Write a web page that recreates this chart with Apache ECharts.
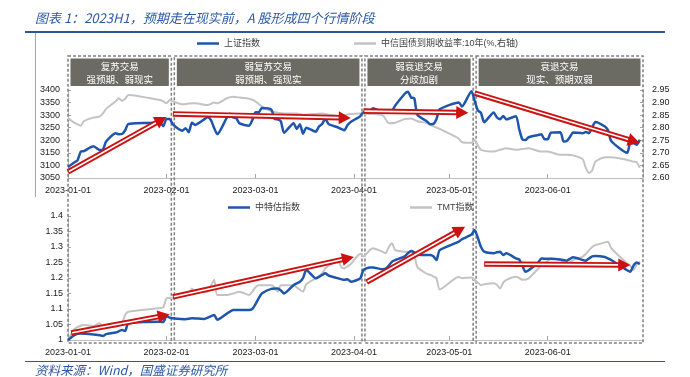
<!DOCTYPE html>
<html>
<head>
<meta charset="utf-8">
<script src="https://cdn.jsdelivr.net/npm/echarts/dist/echarts.min.js"></script>
<style>
html,body{margin:0;padding:0;background:#fff}
#main{width:690px;height:377px}
</style>
</head>
<body>
<div id="main"></div>
<script>
// 刻度与阶段
var monthTicks = ['2023-01-01', '2023-02-01', '2023-03-01', '2023-04-01', '2023-05-01', '2023-06-01'];
var axisEnd = '2023-07-01';
var phaseEdges = ['2023-01-01', '2023-02-03', '2023-04-04', '2023-05-09', '2023-07-01'];
var phaseTitles = ['复苏交易', '弱复苏交易', '弱衰退交易', '衰退交易'];
var phaseNotes = ['强预期、弱现实', '弱预期、强现实', '分歧加剧', '现实、预期双弱'];

// 上证指数（左轴）
var sse = [['01-01',3094],['01-03',3112],['01-04',3120],['01-05',3155],['01-06',3157],['01-09',3176],['01-10',3169],['01-11',3161],['01-12',3163],['01-13',3195],['01-16',3228],['01-17',3224],['01-18',3225],['01-19',3240],['01-20',3265],['01-30',3270],['01-31',3256],['02-01',3285],['02-02',3285],['02-03',3263],['02-06',3238],['02-07',3248],['02-08',3232],['02-09',3270],['02-10',3261],['02-13',3284],['02-14',3293],['02-15',3280],['02-16',3249],['02-17',3224],['02-20',3290],['02-21',3306],['02-22',3291],['02-23',3287],['02-24',3267],['02-27',3258],['02-28',3280],['03-01',3312],['03-02',3310],['03-03',3328],['03-06',3322],['03-07',3285],['03-08',3283],['03-09',3276],['03-10',3230],['03-13',3268],['03-14',3245],['03-15',3264],['03-16',3226],['03-17',3250],['03-20',3234],['03-21',3255],['03-22',3265],['03-23',3286],['03-24',3265],['03-27',3251],['03-28',3245],['03-29',3240],['03-30',3261],['03-31',3273],['04-03',3296],['04-04',3312],['04-06',3312],['04-07',3327],['04-10',3315],['04-11',3315],['04-12',3318],['04-13',3319],['04-14',3338],['04-17',3385],['04-18',3393],['04-19',3370],['04-20',3367],['04-21',3301],['04-24',3275],['04-25',3264],['04-26',3265],['04-27',3285],['04-28',3323],['05-04',3350],['05-05',3334],['05-08',3395],['05-09',3357],['05-10',3319],['05-11',3309],['05-12',3272],['05-15',3311],['05-16',3291],['05-17',3284],['05-18',3297],['05-19',3283],['05-22',3296],['05-23',3246],['05-24',3204],['05-25',3201],['05-26',3212],['05-29',3221],['05-30',3224],['05-31',3204],['06-01',3204],['06-02',3230],['06-05',3232],['06-06',3195],['06-07',3197],['06-08',3213],['06-09',3231],['06-12',3228],['06-13',3233],['06-14',3228],['06-15',3252],['06-16',3273],['06-19',3255],['06-20',3240],['06-21',3197],['06-26',3150],['06-27',3189],['06-28',3189],['06-29',3182],['06-30',3202]];

// 中信国债到期收益率:10年（右轴）
var cgb = [['01-01',2.837],['01-03',2.82],['01-05',2.808],['01-06',2.826],['01-09',2.84],['01-11',2.845],['01-12',2.857],['01-13',2.875],['01-16',2.905],['01-17',2.917],['01-18',2.907],['01-19',2.915],['01-20',2.93],['01-30',2.91],['01-31',2.905],['02-01',2.897],['02-02',2.91],['02-03',2.905],['02-06',2.893],['02-08',2.896],['02-10',2.897],['02-14',2.89],['02-16',2.9],['02-17',2.897],['02-20',2.917],['02-22',2.923],['02-24',2.92],['02-27',2.915],['03-01',2.905],['03-03',2.885],['03-06',2.865],['03-08',2.86],['03-10',2.857],['03-14',2.857],['03-16',2.852],['03-20',2.855],['03-22',2.857],['03-24',2.852],['03-28',2.847],['03-30',2.853],['04-03',2.857],['04-06',2.855],['04-10',2.85],['04-12',2.818],['04-14',2.82],['04-17',2.835],['04-19',2.837],['04-21',2.826],['04-24',2.818],['04-26',2.806],['04-28',2.795],['05-04',2.757],['05-05',2.742],['05-08',2.74],['05-09',2.751],['05-10',2.73],['05-11',2.712],['05-15',2.705],['05-17',2.712],['05-19',2.718],['05-22',2.712],['05-24',2.715],['05-26',2.718],['05-30',2.705],['06-01',2.705],['06-05',2.692],['06-07',2.692],['06-09',2.69],['06-12',2.675],['06-13',2.64],['06-14',2.62],['06-15',2.63],['06-16',2.665],['06-19',2.683],['06-21',2.683],['06-26',2.672],['06-28',2.665],['06-29',2.663],['06-30',2.64]];

// 中特估指数
var zte = [['01-01',1.0],['01-03',1.016],['01-05',1.021],['01-09',1.018],['01-11',1.015],['01-12',1.013],['01-13',1.019],['01-16',1.024],['01-18',1.032],['01-19',1.029],['01-20',1.054],['01-30',1.059],['01-31',1.058],['02-01',1.077],['02-02',1.072],['02-03',1.07],['02-07',1.067],['02-09',1.07],['02-13',1.068],['02-14',1.072],['02-16',1.081],['02-17',1.065],['02-20',1.085],['02-22',1.097],['02-27',1.097],['02-28',1.1],['03-01',1.115],['03-02',1.134],['03-03',1.15],['03-06',1.165],['03-08',1.166],['03-09',1.16],['03-10',1.15],['03-13',1.177],['03-15',1.188],['03-16',1.2],['03-17',1.226],['03-20',1.199],['03-22',1.21],['03-23',1.215],['03-24',1.208],['03-27',1.199],['03-29',1.194],['03-30',1.196],['03-31',1.188],['04-03',1.199],['04-04',1.226],['04-06',1.234],['04-07',1.234],['04-10',1.228],['04-11',1.23],['04-12',1.24],['04-13',1.253],['04-14',1.258],['04-17',1.27],['04-18',1.28],['04-19',1.287],['04-20',1.283],['04-21',1.276],['04-24',1.274],['04-25',1.274],['04-26',1.27],['04-27',1.258],['04-28',1.29],['05-04',1.317],['05-05',1.325],['05-08',1.34],['05-09',1.355],['05-10',1.33],['05-11',1.3],['05-12',1.285],['05-15',1.28],['05-16',1.283],['05-17',1.285],['05-18',1.274],['05-19',1.28],['05-22',1.263],['05-23',1.26],['05-24',1.24],['05-25',1.22],['05-26',1.225],['05-29',1.25],['05-30',1.263],['05-31',1.262],['06-02',1.262],['06-05',1.26],['06-07',1.256],['06-08',1.262],['06-09',1.267],['06-12',1.258],['06-13',1.256],['06-14',1.263],['06-15',1.27],['06-16',1.271],['06-19',1.268],['06-20',1.263],['06-21',1.258],['06-26',1.225],['06-27',1.22],['06-28',1.24],['06-29',1.25],['06-30',1.245]];

// TMT指数
var tmt = [['01-01',1.0],['01-03',1.035],['01-05',1.046],['01-06',1.048],['01-09',1.045],['01-10',1.05],['01-11',1.054],['01-12',1.038],['01-13',1.04],['01-16',1.043],['01-18',1.054],['01-19',1.081],['01-20',1.091],['01-30',1.103],['01-31',1.106],['02-01',1.134],['02-02',1.136],['02-03',1.135],['02-06',1.145],['02-07',1.15],['02-08',1.15],['02-09',1.166],['02-10',1.156],['02-14',1.156],['02-15',1.175],['02-16',1.194],['02-17',1.145],['02-20',1.145],['02-22',1.15],['02-24',1.156],['02-27',1.145],['02-28',1.155],['03-01',1.17],['03-02',1.177],['03-06',1.177],['03-07',1.17],['03-08',1.156],['03-09',1.177],['03-13',1.177],['03-14',1.17],['03-16',1.156],['03-17',1.18],['03-20',1.199],['03-21',1.205],['03-22',1.215],['03-23',1.231],['03-24',1.24],['03-27',1.258],['03-28',1.235],['03-29',1.231],['03-30',1.237],['03-31',1.245],['04-03',1.278],['04-04',1.27],['04-06',1.29],['04-07',1.296],['04-10',1.285],['04-11',1.28],['04-12',1.3],['04-13',1.312],['04-14',1.29],['04-17',1.285],['04-19',1.283],['04-20',1.274],['04-21',1.235],['04-24',1.213],['04-25',1.21],['04-26',1.205],['04-27',1.199],['04-28',1.163],['05-04',1.204],['05-05',1.199],['05-08',1.202],['05-09',1.194],['05-10',1.185],['05-11',1.177],['05-12',1.18],['05-15',1.183],['05-16',1.178],['05-17',1.166],['05-18',1.185],['05-19',1.194],['05-22',1.204],['05-23',1.2],['05-24',1.194],['05-26',1.199],['05-29',1.23],['05-30',1.24],['05-31',1.247],['06-01',1.255],['06-02',1.263],['06-05',1.258],['06-06',1.25],['06-07',1.242],['06-08',1.25],['06-09',1.258],['06-12',1.269],['06-13',1.278],['06-14',1.29],['06-15',1.3],['06-16',1.306],['06-19',1.315],['06-20',1.317],['06-21',1.296],['06-26',1.247],['06-27',1.24],['06-28',1.226],['06-29',1.242],['06-30',1.253]];

// 箭头：起点日期, 起点值, 终点日期, 终点值
var arrowsTop = [['01-01',3074,'02-01',3293],['02-03',3305,'03-31',3289],['04-04',3316,'05-07',3310],['05-09',3388,'06-30',3189]];
var arrowsBottom = [['01-02',1.023,'02-02',1.082],['02-03',1.139,'04-01',1.268],['04-05',1.187,'05-06',1.365],['05-12',1.245,'06-27',1.242]];

var BLUE = '#1f56ad', GRAY = '#c3c3c3', RED = '#cc1111';
var FONT = '"Liberation Sans", "Noto Sans CJK SC", sans-serif';
var DAY = 86400000, BASE = Date.UTC(2023, 0, 1);

// 日期 -> 距1月1日天数
function toDay(s) {
    if (s.length === 5) s = '2023-' + s;
    var p = s.split('-');
    return (Date.UTC(+p[0], +p[1] - 1, +p[2]) - BASE) / DAY;
}
function dayToStr(d) {
    return new Date(BASE + Math.round(d) * DAY).toISOString().slice(0, 10);
}
function pairs(arr) {
    return arr.map(function (r) { return [toDay(r[0]), r[1]]; });
}
function arrows(arr) {
    return arr.map(function (r) { return [toDay(r[0]), r[1], toDay(r[2]), r[3]]; });
}

var tickDays = monthTicks.map(toDay);

function renderArrow(params, api) {
    var a = api.coord([api.value(0), api.value(1)]);
    var b = api.coord([api.value(2), api.value(3)]);
    var dx = b[0] - a[0], dy = b[1] - a[1];
    var L = Math.sqrt(dx * dx + dy * dy);
    var ux = dx / L, uy = dy / L;
    var h = 12, w = 6.5;
    var bx = b[0] - ux * h, by = b[1] - uy * h;
    return {
        type: 'group',
        children: [
            { type: 'line', shape: { x1: a[0], y1: a[1], x2: bx + ux * 2, y2: by + uy * 2 },
              style: { stroke: RED, lineWidth: 5.5 } },
            { type: 'line', shape: { x1: a[0] + ux, y1: a[1] + uy, x2: bx, y2: by },
              style: { stroke: '#fff', lineWidth: 1.6 } },
            { type: 'polygon', shape: { points: [[b[0], b[1]], [bx - uy * w, by + ux * w], [bx + uy * w, by - ux * w]] },
              style: { fill: RED } }
        ]
    };
}

function xAxisCfg(i) {
    return {
        type: 'value', gridIndex: i, min: 0, max: toDay(axisEnd),
        axisLine: { show: true, lineStyle: { color: '#bfbfbf' } },
        axisTick: { show: true, inside: true, length: 4, customValues: tickDays, lineStyle: { color: '#a6a6a6' } },
        axisLabel: { customValues: tickDays, formatter: function (v) { return dayToStr(v); },
                     margin: 8, fontSize: 9, color: '#1a1a1a', fontFamily: FONT },
        splitLine: { show: false }
    };
}
function yAxisCfg(grid, pos, min, max, step, margin, fmt) {
    return {
        type: 'value', gridIndex: grid, position: pos, min: min, max: max, interval: step,
        axisLine: { show: true, lineStyle: { color: '#bfbfbf' } },
        axisTick: { show: true, inside: true, length: 3, lineStyle: { color: '#a6a6a6' } },
        axisLabel: { margin: margin, fontSize: 9, color: '#1a1a1a', fontFamily: FONT, formatter: fmt },
        splitLine: { show: false }
    };
}
function legendCfg(name, left, top, color) {
    return {
        data: [{ name: name, icon: 'rect', itemStyle: { color: color } }],
        left: left, top: top, itemWidth: 22, itemHeight: 2.5, itemGap: 4, padding: 0,
        textStyle: { fontSize: 9, color: '#404040', fontFamily: FONT }
    };
}

var chart = echarts.init(document.getElementById('main'));
var option = {
    animation: false,
    backgroundColor: '#fff',
    grid: [
        { left: 68, right: 47, top: 90, height: 88 },
        { left: 68, right: 47, top: 216, height: 124 }
    ],
    legend: [
        legendCfg('上证指数', 197, 39, BLUE),
        legendCfg('中信国债到期收益率:10年(%,右轴)', 354, 39, GRAY),
        legendCfg('中特估指数', 228, 203, BLUE),
        legendCfg('TMT指数', 410, 203, GRAY)
    ],
    xAxis: [xAxisCfg(0), xAxisCfg(1)],
    yAxis: [
        yAxisCfg(0, 'left', 3050, 3400, 50, 8, function (v) { return String(v); }),
        yAxisCfg(0, 'right', 2.6, 2.95, 0.05, 9, function (v) { return v.toFixed(2); }),
        yAxisCfg(1, 'left', 1, 1.4, 0.05, 5, function (v) { return String(+v.toFixed(2)); })
    ],
    series: [
        { name: '中信国债到期收益率:10年(%,右轴)', type: 'line', xAxisIndex: 0, yAxisIndex: 1, data: pairs(cgb),
          symbol: 'none', smooth: 0.2, lineStyle: { color: GRAY, width: 2 }, itemStyle: { color: GRAY }, z: 2 },
        { name: '上证指数', type: 'line', xAxisIndex: 0, yAxisIndex: 0, data: pairs(sse),
          symbol: 'none', smooth: 0.2, lineStyle: { color: BLUE, width: 2.5 }, itemStyle: { color: BLUE }, z: 3 },
        { name: 'TMT指数', type: 'line', xAxisIndex: 1, yAxisIndex: 2, data: pairs(tmt),
          symbol: 'none', smooth: 0.2, lineStyle: { color: GRAY, width: 2 }, itemStyle: { color: GRAY }, z: 2 },
        { name: '中特估指数', type: 'line', xAxisIndex: 1, yAxisIndex: 2, data: pairs(zte),
          symbol: 'none', smooth: 0.2, lineStyle: { color: BLUE, width: 2.5 }, itemStyle: { color: BLUE }, z: 3 },
        { type: 'custom', xAxisIndex: 0, yAxisIndex: 0, data: arrows(arrowsTop), renderItem: renderArrow, z: 5, silent: true },
        { type: 'custom', xAxisIndex: 1, yAxisIndex: 2, data: arrows(arrowsBottom), renderItem: renderArrow, z: 5, silent: true }
    ]
};
chart.setOption(option);

// 阶段框、标题等装饰
var g = [];
var px = function (d) { return chart.convertToPixel({ xAxisIndex: 0 }, toDay(d)); };
for (var i = 0; i < 4; i++) {
    var x0 = px(phaseEdges[i]) + (i ? 1.5 : 0);
    var x1 = px(phaseEdges[i + 1]) - (i < 3 ? 1.5 : 0);
    var cx = (x0 + x1) / 2;
    g.push({ type: 'rect', z: 1, shape: { x: x0, y: 56, width: x1 - x0, height: 287 },
             style: { fill: 'none', stroke: '#7f7f7f', lineWidth: 1.5, lineDash: [3, 2] } });
    g.push({ type: 'rect', z: 1, shape: { x: x0 + 2.5, y: 58.5, width: x1 - x0 - 5, height: 27.5 },
             style: { fill: '#6b6a63' } });
    g.push({ type: 'text', z: 2, x: cx, y: 66, style: { text: phaseTitles[i], fill: '#fff',
             font: '9.5px "Noto Sans CJK SC"', align: 'center', verticalAlign: 'middle' } });
    g.push({ type: 'text', z: 2, x: cx, y: 79, style: { text: phaseNotes[i], fill: '#fff',
             font: '9.5px "Noto Sans CJK SC"', align: 'center', verticalAlign: 'middle' } });
}
g.push({ type: 'text', x: 35, y: 18, style: { text: '图表 1：2023H1，预期走在现实前，A 股形成四个行情阶段',
         fill: '#2b58a6', font: 'italic 13px "Noto Sans CJK SC"', verticalAlign: 'middle' } });
g.push({ type: 'line', shape: { x1: 25, y1: 32, x2: 665, y2: 32 }, style: { stroke: '#2f5597', lineWidth: 2 } });
g.push({ type: 'line', shape: { x1: 35.5, y1: 33, x2: 35.5, y2: 197 }, style: { stroke: '#a6a6a6', lineWidth: 1 } });
g.push({ type: 'line', shape: { x1: 25, y1: 361.5, x2: 665, y2: 361.5 }, style: { stroke: '#2f5597', lineWidth: 1 } });
g.push({ type: 'text', x: 35, y: 370, style: { text: '资料来源：Wind，国盛证券研究所',
         fill: '#2b58a6', font: 'italic 12.5px "Noto Sans CJK SC"', verticalAlign: 'middle' } });
chart.setOption({ graphic: g });
</script>
</body>
</html>
